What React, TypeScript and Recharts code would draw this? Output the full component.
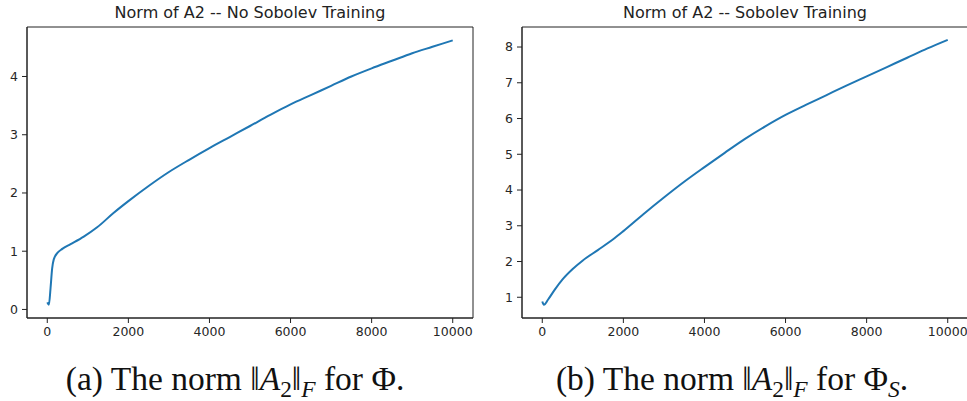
import React from "react";
import { LineChart, Line, XAxis, YAxis, ReferenceArea } from "recharts";

// Training steps and the Frobenius norm of A2
const stepsNoSobolev = [
  0, 40, 80, 120, 160, 250, 370, 575, 900, 1230, 1640, 2000, 2500, 3000, 3500,
  4000, 4500, 5000, 5500, 6000, 6500, 7000, 7500, 8000, 8500, 9000, 9500, 10000,
];
const normNoSobolev = [
  0.12, 0.08, 0.36, 0.7, 0.86, 0.97, 1.04, 1.12, 1.25, 1.41, 1.66, 1.86, 2.12,
  2.36, 2.57, 2.77, 2.96, 3.15, 3.34, 3.52, 3.68, 3.84, 4.0, 4.14, 4.27, 4.4,
  4.51, 4.62,
];

const stepsSobolev = [
  0, 40, 140, 300, 500, 750, 1000, 1370, 1780, 2000, 2500, 3000, 3500, 4000,
  4500, 5000, 5500, 6000, 6500, 7000, 7500, 8000, 8500, 9000, 9500, 10000,
];
const normSobolev = [
  0.88, 0.79, 0.93, 1.2, 1.5, 1.79, 2.03, 2.32, 2.65, 2.85, 3.33, 3.79, 4.23,
  4.64, 5.04, 5.43, 5.78, 6.1, 6.38, 6.65, 6.92, 7.18, 7.44, 7.7, 7.96, 8.2,
];

const xTicks = [0, 2000, 4000, 6000, 8000, 10000];
const yTicksNoSobolev = [0, 1, 2, 3, 4];
const yTicksSobolev = [1, 2, 3, 4, 5, 6, 7, 8];

const titles = ["Norm of A2 -- No Sobolev Training", "Norm of A2 -- Sobolev Training"];

const X_DOMAIN: [number, number] = [-500, 10500];
const LINE_COLOR = "#1f77b4";
const AXIS_COLOR = "#222";
const tickStyle = { fontFamily: "DejaVu Sans", fontSize: 12.5, fill: "#262626" };

interface PanelProps {
  steps: number[];
  norms: number[];
  yDomain: [number, number];
  yTicks: number[];
  title: string;
  left: number;
  width: number;
  yAxisWidth: number;
  rightMargin: number;
}

function NormPanel({
  steps,
  norms,
  yDomain,
  yTicks,
  title,
  left,
  width,
  yAxisWidth,
  rightMargin,
}: PanelProps) {
  const data = steps.map((s, i) => ({ step: s, norm: norms[i] }));
  const plotLeft = yAxisWidth;
  const plotRight = width - rightMargin;

  return (
    <div style={{ position: "absolute", left, top: 0, width, height: 345 }}>
      {/* title, centred above the axes box */}
      <div
        style={{
          position: "absolute",
          left: plotLeft,
          width: plotRight - plotLeft,
          top: 3,
          textAlign: "center",
          fontFamily: "DejaVu Sans",
          fontSize: 16,
          lineHeight: "19px",
          color: "#222",
          whiteSpace: "nowrap",
        }}
      >
        {title}
      </div>
      <LineChart
        width={width}
        height={345}
        data={data}
        margin={{ top: 27, right: rightMargin, left: 0, bottom: 0 }}
      >
        <XAxis
          dataKey="step"
          type="number"
          domain={X_DOMAIN}
          ticks={xTicks}
          allowDataOverflow
          height={27}
          tickSize={5}
          tickMargin={4}
          tick={tickStyle}
          stroke={AXIS_COLOR}
        />
        <YAxis
          type="number"
          domain={yDomain}
          ticks={yTicks}
          allowDataOverflow
          width={yAxisWidth}
          tickSize={5}
          tickMargin={4}
          tick={tickStyle}
          stroke={AXIS_COLOR}
        />
        {/* full box frame like matplotlib spines */}
        <ReferenceArea
          x1={X_DOMAIN[0]}
          x2={X_DOMAIN[1]}
          y1={yDomain[0]}
          y2={yDomain[1]}
          fill="none"
          stroke={AXIS_COLOR}
          strokeWidth={1}
          ifOverflow="visible"
        />
        <Line
          type="monotone"
          dataKey="norm"
          stroke={LINE_COLOR}
          strokeWidth={2}
          dot={false}
          isAnimationActive={false}
        />
      </LineChart>
    </div>
  );
}

const subStyle: React.CSSProperties = {
  fontSize: "0.7em",
  verticalAlign: "baseline",
  position: "relative",
  top: "0.28em",
};

function Caption({ center, label, sub }: { center: number; label: string; sub?: string }) {
  return (
    <div
      style={{
        position: "absolute",
        left: center - 250,
        width: 500,
        top: 361,
        textAlign: "center",
        fontFamily: "Liberation Serif",
        fontSize: 33.5,
        lineHeight: "36px",
        color: "#111",
        whiteSpace: "nowrap",
      }}
    >
      ({label}) The norm ‖<i>A</i>
      <span style={subStyle}>2</span>‖
      <span style={subStyle}>
        <i>F</i>
      </span>{" "}
      for Φ
      {sub ? (
        <span style={subStyle}>
          <i>{sub}</i>
        </span>
      ) : null}
      .
    </div>
  );
}

export default function App() {
  return (
    <div
      style={{
        position: "absolute",
        left: 0,
        top: 0,
        width: 967,
        height: 401,
        overflow: "hidden",
        background: "#fff",
      }}
    >
      <NormPanel
        steps={stepsNoSobolev}
        norms={normNoSobolev}
        yDomain={[-0.147, 4.85]}
        yTicks={yTicksNoSobolev}
        title={titles[0]}
        left={0}
        width={480}
        yAxisWidth={27}
        rightMargin={7}
      />
      <NormPanel
        steps={stepsSobolev}
        norms={normSobolev}
        yDomain={[0.42, 8.56]}
        yTicks={yTicksSobolev}
        title={titles[1]}
        left={480}
        width={490}
        yAxisWidth={42}
        rightMargin={2}
      />
      <Caption center={235} label="a" />
      <Caption center={732} label="b" sub="S" />
    </div>
  );
}
